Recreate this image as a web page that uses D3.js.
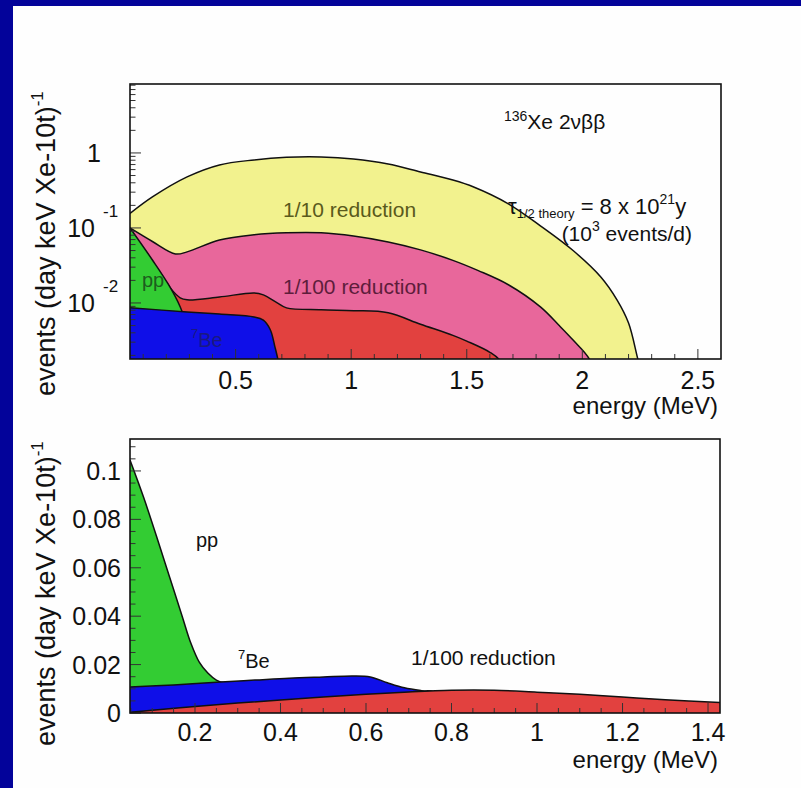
<!DOCTYPE html>
<html>
<head>
<meta charset="utf-8">
<script src="https://cdn.jsdelivr.net/npm/d3@7/dist/d3.min.js"></script>
<style>
  html, body { margin: 0; padding: 0; background: #fff; }
  svg { display: block; }
  text { font-family: "Liberation Sans", Arial, Helvetica, sans-serif; }
</style>
</head>
<body>
<script>
// values, [energy (MeV), events (day keV Xe-10t)^-1]

// top panel, log scale
const topYellow = [[0.043,0.156],[0.14,0.259],[0.29,0.479],[0.43,0.692],[0.58,0.807],[0.72,0.875],
  [0.87,0.885],[1.01,0.832],[1.16,0.713],[1.3,0.558],[1.44,0.436],[1.53,0.352],[1.68,0.210],
  [1.82,0.106],[1.96,0.050],[2.08,0.0222],[2.15,0.011],[2.2,0.0054],[2.24,0.0018],[2.27,0.0008]];
const topPink = [[0.043,0.100],[0.14,0.066],[0.24,0.045],[0.29,0.048],[0.43,0.069],[0.58,0.081],
  [0.72,0.086],[0.87,0.086],[1.01,0.078],[1.16,0.065],[1.3,0.051],[1.44,0.037],[1.55,0.027],
  [1.68,0.0175],[1.82,0.0088],[1.9,0.0050],[1.96,0.0032],[2.03,0.0018],[2.07,0.0008]];
const topRed = [[0.043,0.095],[0.14,0.035],[0.22,0.0155],[0.26,0.0117],[0.29,0.0110],[0.43,0.0120],
  [0.58,0.0136],[0.62,0.0128],[0.68,0.0100],[0.72,0.0086],[0.87,0.0081],[1.01,0.0079],
  [1.16,0.0074],[1.3,0.0052],[1.44,0.0037],[1.5,0.0031],[1.6,0.0022],[1.645,0.0017],[1.7,0.0008]];
const topGreen = [[0.043,0.100],[0.14,0.0374],[0.21,0.0175],[0.26,0.0089],[0.28,0.0060],
  [0.3,0.0025],[0.32,0.001]];
const topBlue = [[0.043,0.0086],[0.29,0.0076],[0.43,0.0071],[0.58,0.0065],[0.62,0.0059],
  [0.65,0.0044],[0.67,0.0026],[0.684,0.0017],[0.7,0.0008]];

// bottom panel, linear scale
const botGreen = [[0.048,0.1045],[0.08,0.089],[0.11,0.073],[0.14,0.0565],[0.17,0.040],[0.19,0.029],
  [0.21,0.021],[0.23,0.0165],[0.25,0.0136],[0.27,0.0124],[0.29,0.0122],[0.31,0]];
const botBlue = [[0.048,0.0107],[0.15,0.0116],[0.26,0.0128],[0.34,0.0136],[0.42,0.0144],[0.5,0.0149],
  [0.57,0.0153],[0.61,0.0149],[0.65,0.0125],[0.69,0.0104],[0.73,0.0092],[0.76,0.0086],[0.8,0]];
const botRed = [[0.048,0.0003],[0.1,0.0011],[0.2,0.0027],[0.3,0.0041],[0.4,0.0054],[0.5,0.0066],
  [0.6,0.0077],[0.7,0.0087],[0.8,0.0094],[0.9,0.0094],[1.0,0.0086],[1.1,0.0077],[1.2,0.0066],
  [1.3,0.0055],[1.43,0.0043]];

// tick labels
const topXLabels = [0.5, 1, 1.5, 2, 2.5];
const topYLabels = [[1, "1", ""], [0.1, "10", "-1"], [0.01, "10", "-2"]];
const botXLabels = [0.2, 0.4, 0.6, 0.8, 1, 1.2, 1.4];
const botYLabels = [0, 0.02, 0.04, 0.06, 0.08, 0.1];

const W = 801, H = 788;
const svg = d3.select("body").append("svg").attr("width", W).attr("height", H);

// slide background: white with the dark blue edges
svg.append("rect").attr("width", W).attr("height", H).attr("fill", "#fefefe");
svg.append("rect").attr("width", 13).attr("height", H).attr("fill", "#03039a");
svg.append("rect").attr("width", W).attr("height", 6).attr("fill", "#03039a");

const curve = d3.curveCatmullRom.alpha(0.5);

function drawAreas(g, x, y, bottom, series) {
  const area = d3.area().x(d => x(d[0])).y0(bottom).y1(d => y(d[1])).curve(curve);
  const line = d3.line().x(d => x(d[0])).y(d => y(d[1])).curve(curve);
  series.forEach(s => {
    g.append("path").attr("d", area(s.data)).attr("fill", s.color);
    g.append("path").attr("d", line(s.data)).attr("fill", "none")
      .attr("stroke", "#111").attr("stroke-width", 1.5);
  });
}

function yTitle(cx, bottomY) {
  const t = svg.append("text")
    .attr("transform", `translate(${cx},${bottomY}) rotate(-90)`)
    .attr("font-size", 27).attr("fill", "#111");
  t.append("tspan").text("events (day keV Xe-10t)");
  t.append("tspan").attr("dy", -12).attr("font-size", 17).text("-1");
}

// ---------------- top panel ----------------
const tL = 130, tR = 721, tT = 84, tB = 359;
const xTop = d3.scaleLinear().domain([0.043, 2.6]).range([tL, tR]);
const yTop = d3.scaleLog().domain([0.00179, 8.3]).range([tB, tT]);

svg.append("clipPath").attr("id", "clipTop").append("rect")
  .attr("x", tL).attr("y", tT).attr("width", tR - tL).attr("height", tB - tT);
const gTop = svg.append("g").attr("clip-path", "url(#clipTop)");

drawAreas(gTop, xTop, yTop, tB, [
  { data: topYellow, color: "#f2f28e" },
  { data: topPink, color: "#e8679b" },
  { data: topRed, color: "#e2413f" },
  { data: topGreen, color: "#33cc33" },
  { data: topBlue, color: "#0f0fe8" }
]);

// ticks (inside the frame)
yTop.ticks().forEach(t => {
  const lg = Math.log10(t);
  const major = Math.abs(lg - Math.round(lg)) < 1e-6;
  svg.append("line").attr("x1", tL).attr("x2", tL + (major ? 11 : 5.5))
    .attr("y1", yTop(t)).attr("y2", yTop(t)).attr("stroke", "#333").attr("stroke-width", 1);
});
d3.range(1, 26).forEach(i => {
  const v = i / 10;
  const major = i % 5 === 0;
  svg.append("line").attr("x1", xTop(v)).attr("x2", xTop(v))
    .attr("y1", tB).attr("y2", tB - (major ? 10 : 5)).attr("stroke", "#333").attr("stroke-width", 1);
});
svg.append("rect").attr("x", tL).attr("y", tT).attr("width", tR - tL).attr("height", tB - tT)
  .attr("fill", "none").attr("stroke", "#111").attr("stroke-width", 1.6);

svg.selectAll("text.txTop").data(topXLabels).join("text").attr("class", "txTop")
  .attr("x", d => xTop(d)).attr("y", tB + 30).attr("text-anchor", "middle")
  .attr("font-size", 25).attr("fill", "#111").text(d => d);

topYLabels.forEach(([v, base, exp]) => {
  svg.append("text").attr("x", exp ? 95 : 101).attr("y", yTop(v) + 9)
    .attr("text-anchor", "end").attr("font-size", 25).attr("fill", "#111").text(base);
  if (exp) svg.append("text").attr("x", 103).attr("y", yTop(v) - 11)
    .attr("font-size", 17).attr("fill", "#111").text(exp);
});

svg.append("text").attr("x", 718).attr("y", 414).attr("text-anchor", "end")
  .attr("font-size", 24).attr("fill", "#111").text("energy (MeV)");
yTitle(55, 396);

// annotations
gTop.append("text").attr("x", 283).attr("y", 217).attr("font-size", 21).attr("fill", "#5a5a1c")
  .text("1/10 reduction");
gTop.append("text").attr("x", 283).attr("y", 294).attr("font-size", 21).attr("fill", "#5e1d3b")
  .text("1/100 reduction");
gTop.append("text").attr("x", 142).attr("y", 287).attr("font-size", 20).attr("fill", "#1d5c1d")
  .text("pp");
const beTop = gTop.append("text").attr("x", 191).attr("y", 347).attr("fill", "#1a1a80");
beTop.append("tspan").attr("font-size", 13).attr("dy", -9).text("7");
beTop.append("tspan").attr("font-size", 20).attr("dy", 9).text("Be");

const xe = svg.append("text").attr("x", 504).attr("y", 129).attr("fill", "#111");
xe.append("tspan").attr("font-size", 14).attr("dy", -8).text("136");
xe.append("tspan").attr("font-size", 21).attr("dy", 8).text("Xe 2\u03bd\u03b2\u03b2");

const tau = svg.append("text").attr("x", 508).attr("y", 214).attr("fill", "#111");
tau.append("tspan").attr("font-size", 22).text("\u03c4");
tau.append("tspan").attr("font-size", 13).attr("dy", 4).text("1/2 theory");
tau.append("tspan").attr("font-size", 22).attr("dy", -4).text(" = 8 x 10");
tau.append("tspan").attr("font-size", 14).attr("dy", -10).text("21");
tau.append("tspan").attr("font-size", 22).attr("dy", 10).text("y");

const ev = svg.append("text").attr("x", 692).attr("y", 241).attr("text-anchor", "end").attr("fill", "#111");
ev.append("tspan").attr("font-size", 21).text("(10");
ev.append("tspan").attr("font-size", 14).attr("dy", -10).text("3");
ev.append("tspan").attr("font-size", 21).attr("dy", 10).text(" events/d)");

// ---------------- bottom panel ----------------
const bL = 130, bR = 720, bT = 439, bB = 713;
const xBot = d3.scaleLinear().domain([0.048, 1.428]).range([bL, bR]);
const yBot = d3.scaleLinear().domain([0, 0.1132]).range([bB, bT]);

svg.append("clipPath").attr("id", "clipBot").append("rect")
  .attr("x", bL).attr("y", bT).attr("width", bR - bL).attr("height", bB - bT);
const gBot = svg.append("g").attr("clip-path", "url(#clipBot)");

drawAreas(gBot, xBot, yBot, bB, [
  { data: botGreen, color: "#33cc33" },
  { data: botBlue, color: "#0f0fe8" },
  { data: botRed, color: "#e2413f" }
]);

d3.range(1, 29).forEach(i => {
  const v = i * 0.05;
  const major = i % 4 === 0;
  svg.append("line").attr("x1", xBot(v)).attr("x2", xBot(v))
    .attr("y1", bB).attr("y2", bB - (major ? 10 : 5)).attr("stroke", "#333").attr("stroke-width", 1);
});
d3.range(0, 23).forEach(i => {
  const v = i * 0.005;
  const major = i % 4 === 0;
  svg.append("line").attr("x1", bL).attr("x2", bL + (major ? 11 : 5.5))
    .attr("y1", yBot(v)).attr("y2", yBot(v)).attr("stroke", "#333").attr("stroke-width", 1);
});
svg.append("rect").attr("x", bL).attr("y", bT).attr("width", bR - bL).attr("height", bB - bT)
  .attr("fill", "none").attr("stroke", "#111").attr("stroke-width", 1.6);

svg.selectAll("text.txBot").data(botXLabels).join("text").attr("class", "txBot")
  .attr("x", d => xBot(d)).attr("y", bB + 28).attr("text-anchor", "middle")
  .attr("font-size", 25).attr("fill", "#111").text(d => d);
svg.selectAll("text.tyBot").data(botYLabels).join("text").attr("class", "tyBot")
  .attr("x", 121).attr("y", d => yBot(d) + 9).attr("text-anchor", "end")
  .attr("font-size", 25).attr("fill", "#111").text(d => d);

svg.append("text").attr("x", 718).attr("y", 768).attr("text-anchor", "end")
  .attr("font-size", 24).attr("fill", "#111").text("energy (MeV)");
yTitle(55, 746);

svg.append("text").attr("x", 196).attr("y", 547).attr("font-size", 20).attr("fill", "#111").text("pp");
const beBot = svg.append("text").attr("x", 238).attr("y", 668).attr("fill", "#111");
beBot.append("tspan").attr("font-size", 13).attr("dy", -9).text("7");
beBot.append("tspan").attr("font-size", 20).attr("dy", 9).text("Be");
svg.append("text").attr("x", 411).attr("y", 665).attr("font-size", 21).attr("fill", "#111")
  .text("1/100 reduction");
</script>
</body>
</html>
